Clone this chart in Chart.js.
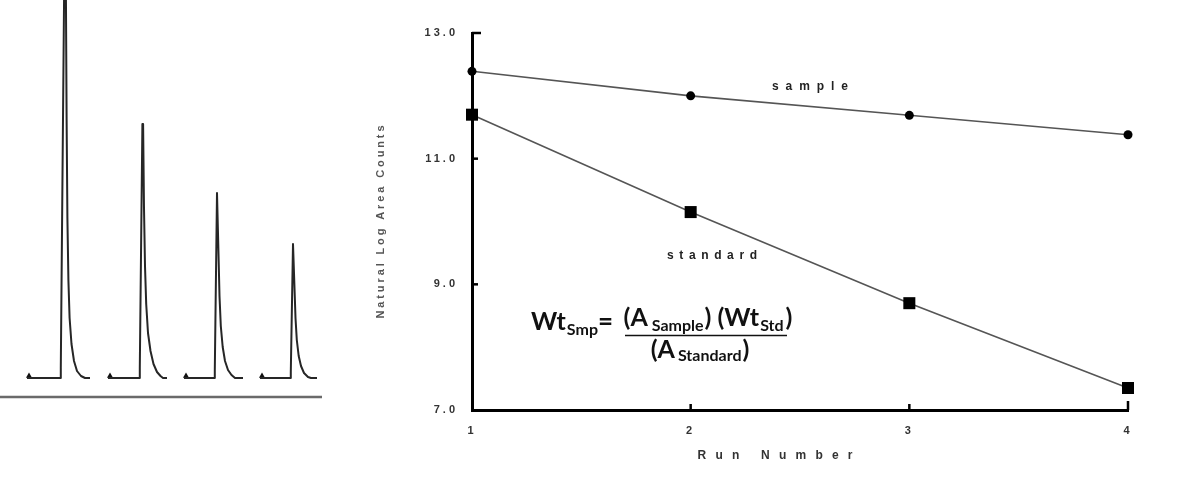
<!DOCTYPE html>
<html><head><meta charset="utf-8">
<script src="https://cdn.jsdelivr.net/npm/chart.js@4/dist/chart.umd.min.js"></script>
<style>
html,body{margin:0;padding:0;background:#fff;width:1180px;height:477px;overflow:hidden}
#right{position:absolute;left:0;top:0;width:1180px;height:477px}
#left{position:absolute;left:0;top:0;width:330px;height:410px}
</style></head><body>
<div id="right"><canvas id="rc"></canvas></div>
<div id="left"><canvas id="lc"></canvas></div>
<script>
// ---- data: right plot ----
const runNumbers = ['1', '2', '3', '4'];
const sampleLnArea = [12.39, 12.00, 11.69, 11.38];
const standardLnArea = [11.70, 10.15, 8.70, 7.35];
const yTickValues = [7, 9, 11, 13];
const seriesNames = ['sample', 'standard'];
const axisTitleY = 'Natural Log Area Counts';
const axisTitleX = 'Run Number';

// ---- data: chromatogram (x position, height above baseline) ----
const peak1 = [[27,0],[60,0],[60.8,10],[64.6,440],[65.6,440],[66.6,260],[67.4,160],[68.4,98],[69.6,60],[71.5,34],[74,17],[77,7],[81,2],[85,0],[90,0]];
const peak2 = [[108,0],[139,0],[139.8,10],[142.4,254],[143.1,254],[144,170],[145,112],[146.2,74],[148,45],[150.5,27],[153.5,14],[157,6],[160.5,2],[163,0],[167,0]];
const peak3 = [[184,0],[214,0],[214.8,8],[217,185],[217.6,185],[218.5,124],[219.5,82],[220.8,52],[222.7,31],[225,17],[228,8],[231.5,3],[235,0],[243,0]];
const peak4 = [[260,0],[290,0],[290.8,6],[293,134],[293.6,134],[294.5,90],[295.5,60],[296.8,38],[298.7,22],[301,12],[304,5],[308,1],[311,0],[317,0]];
const injectionMarks = [[29,2],[110,2],[186,2],[262,2]];
const baseRule = [[0,-19],[322,-19]];

const toXY = arr => arr.map(p => ({x: p[0], y: p[1]}));

// ---- left chart (chromatogram) ----
const peakStyle = {borderColor:'#262626', borderWidth:2, pointRadius:0, tension:0, fill:false, borderJoinStyle:'round'};
new Chart(document.getElementById('lc'), {
  type: 'line',
  data: { datasets: [
    Object.assign({data: toXY(peak1)}, peakStyle),
    Object.assign({data: toXY(peak2)}, peakStyle),
    Object.assign({data: toXY(peak3)}, peakStyle),
    Object.assign({data: toXY(peak4)}, peakStyle),
    {data: toXY(injectionMarks), showLine:false, pointStyle:'triangle', pointRadius:3.5, pointBackgroundColor:'#111', pointBorderWidth:0},
    {data: toXY(baseRule), borderColor:'#6a6a6a', borderWidth:2.5, pointRadius:0}
  ]},
  options: {
    responsive:true, maintainAspectRatio:false, animation:false, events:[],
    layout:{padding:0, autoPadding:false},
    plugins:{legend:{display:false}, tooltip:{enabled:false}},
    scales:{
      x:{type:'linear', min:0, max:330, display:false},
      y:{type:'linear', min:-32, max:378, display:false}
    }
  }
});

// ---- right chart helpers ----
function spaced(ctx, text, cx, cy, w, font, color, angle) {
  ctx.save();
  ctx.font = font; ctx.fillStyle = color; ctx.letterSpacing = '0px';
  const base = ctx.measureText(text).width;
  const sp = (w - base) / (text.length - 1);
  ctx.letterSpacing = sp + 'px';
  ctx.translate(cx, cy);
  if (angle) ctx.rotate(angle);
  ctx.textAlign = 'left'; ctx.textBaseline = 'middle';
  ctx.fillText(text, -w / 2, 0);
  ctx.restore();
}
const FF = 'Lato, "Open Sans", sans-serif';
// draws a run of [text, size, baselineY, gapBefore] pieces from x; returns end x
function run(ctx, x, pieces) {
  pieces.forEach(p => {
    x += p[3] || 0;
    ctx.font = 'bold ' + p[1] + 'px ' + FF;
    ctx.fillText(p[0], x, p[2]);
    x += ctx.measureText(p[0]).width;
  });
  return x;
}
function runWidth(ctx, pieces) {
  let w = 0;
  pieces.forEach(p => { ctx.font = 'bold ' + p[1] + 'px ' + FF; w += (p[3] || 0) + ctx.measureText(p[0]).width; });
  return w;
}

const decor = {
  id: 'decor',
  beforeDraw(c) { c.ctx.letterSpacing = '3px'; },
  afterDraw(c) {
    const ctx = c.ctx, xs = c.scales.x, ys = c.scales.y, ca = c.chartArea;
    ctx.save();
    ctx.letterSpacing = '0px';
    ctx.strokeStyle = '#000'; ctx.lineWidth = 2.5;
    // inward tick marks
    yTickValues.forEach(v => {
      if (v === yTickValues[0]) return;
      const py = ys.getPixelForValue(v);
      const len = v === yTickValues[yTickValues.length - 1] ? 9 : 6;
      ctx.beginPath(); ctx.moveTo(ca.left, py); ctx.lineTo(ca.left + len, py); ctx.stroke();
    });
    runNumbers.forEach((r, i) => {
      if (i === 0) return;
      const px = xs.getPixelForValue(i);
      const len = i === runNumbers.length - 1 ? 9 : 6;
      ctx.beginPath(); ctx.moveTo(px, ca.bottom); ctx.lineTo(px, ca.bottom - len); ctx.stroke();
    });
    // axis titles and series labels
    spaced(ctx, axisTitleY, 381, 222, 193, 'bold 11px "Liberation Sans", Arial, sans-serif', '#555', -Math.PI / 2);
    spaced(ctx, axisTitleX, 775, 456, 155, 'bold 12px "Liberation Sans", Arial, sans-serif', '#333');
    spaced(ctx, seriesNames[0], 810, 87, 76, 'bold 12px "Liberation Sans", Arial, sans-serif', '#222');
    spaced(ctx, seriesNames[1], 712, 256, 90, 'bold 12px "Liberation Sans", Arial, sans-serif', '#222');
    // formula
    ctx.fillStyle = '#111'; ctx.textAlign = 'left'; ctx.textBaseline = 'alphabetic';
    run(ctx, 531, [['Wt', 25, 330], ['Smp', 16, 335, 1]]);
    run(ctx, 598, [['=', 26, 330]]);
    const num = [['(A', 25, 326], ['Sample', 16, 331, 4], [')', 25, 326, 1], ['(Wt', 25, 326, 6], ['Std', 16, 331, 1], [')', 25, 326, 2]];
    const den = [['(A', 25, 358], ['Standard', 16, 361, 3], [')', 25, 358, 1]];
    const nw = runWidth(ctx, num), dw = runWidth(ctx, den);
    run(ctx, 708 - nw / 2, num);
    run(ctx, 700 - dw / 2, den);
    ctx.lineWidth = 1.6; ctx.strokeStyle = '#111';
    ctx.beginPath(); ctx.moveTo(625, 335.5); ctx.lineTo(787, 335.5); ctx.stroke();
    ctx.restore();
  }
};

// ---- right chart ----
const tickFont = {family:'"Liberation Sans", Arial, sans-serif', size:11, weight:'bold'};
new Chart(document.getElementById('rc'), {
  type: 'line',
  data: { labels: runNumbers, datasets: [
    {label: seriesNames[0], data: sampleLnArea, borderColor:'#555', borderWidth:1.6, pointStyle:'circle', pointRadius:4.5,
     pointBackgroundColor:'#000', pointBorderColor:'#000', pointBorderWidth:0, tension:0, clip:false},
    {label: seriesNames[1], data: standardLnArea, borderColor:'#555', borderWidth:1.6, pointStyle:'rect', pointRadius:8.5,
     pointBackgroundColor:'#000', pointBorderColor:'#000', pointBorderWidth:0, tension:0, clip:false}
  ]},
  options: {
    responsive:true, maintainAspectRatio:false, animation:false, events:[],
    layout:{padding:{left:0, top:33, right:52, bottom:0}, autoPadding:false},
    plugins:{legend:{display:false}, tooltip:{enabled:false}},
    scales:{
      x:{type:'category', offset:false,
         grid:{display:false, drawTicks:false},
         border:{display:true, color:'#000', width:3},
         ticks:{color:'#333', font:tickFont, padding:14, maxRotation:0, autoSkip:false},
         afterFit(s){ s.height = 67; }},
      y:{type:'linear', min:7, max:13,
         grid:{display:false, drawTicks:false},
         border:{display:true, color:'#000', width:3},
         afterBuildTicks(s){ s.ticks = yTickValues.map(v => ({value: v})); },
         ticks:{color:'#333', font:tickFont, padding:14, callback: v => Number(v).toFixed(1)},
         afterFit(s){ s.width = 472; }}
    }
  },
  plugins:[decor]
});
</script>
</body></html>
